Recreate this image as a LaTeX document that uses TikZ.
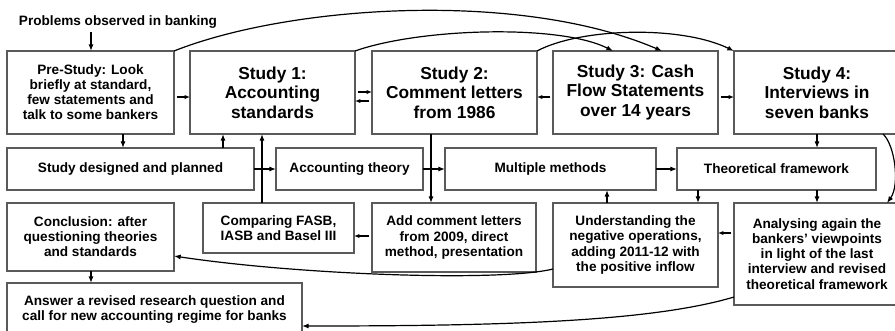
\documentclass[tikz,border=0pt]{standalone}
\usepackage{fontspec}
\setmainfont{Liberation Sans}
\usetikzlibrary{arrows.meta}
\definecolor{bordergray}{RGB}{90,90,90}
\tikzset{
  box/.style={draw=bordergray, line width=0.8pt, align=center, inner sep=0pt, outer sep=0pt,
              font=\bfseries\fontsize{10.2}{11.3}\selectfont},
  big/.style={font=\bfseries\fontsize{13}{14.6}\selectfont},
  arr/.style={line width=0.9pt, -{Latex[length=5pt,width=3.8pt]}},
  arrs/.style={line width=0.9pt, -{Latex[length=4pt,width=3.2pt]}, shorten <=2pt},
}
% \mkbox[opt]{name}{x1}{y1}{x2}{y2}{text}
\newcommand{\mkbox}[7][]{\node[box,#1,minimum width={(#5-#3)*0.75pt},minimum height={(#6-#4)*0.75pt}] (#2) at ({(#3+#5)/2},{(#4+#6)/2}) {#7};}
\begin{document}
\begin{tikzpicture}[x=0.75pt,y=-0.75pt]
\useasboundingbox (0,0) rectangle (895,330);
\node[font=\bfseries\fontsize{10.2}{11.3}\selectfont, inner sep=0pt] (title) at (118,22) {Problems observed in banking};
\coordinate (tstart) at (91,32);
% row 1
\mkbox{pre}{7}{51}{174}{134}{Pre-Study: Look\\briefly at standard,\\few statements and\\talk to some bankers}
\mkbox[big]{s1}{190}{51}{355}{134}{Study 1:\\Accounting\\standards}
\mkbox[big]{s2}{372}{51}{537}{134}{Study 2:\\Comment letters\\from 1986}
\mkbox[big]{s3}{553}{51}{718}{134}{Study 3: Cash\\Flow Statements\\over 14 years}
\mkbox[big]{s4}{734}{51}{900}{134}{Study 4:\\Interviews in\\seven banks}
% row 2
\mkbox{design}{7}{148}{254}{190}{Study designed and planned}
\mkbox{acct}{276}{148}{423}{190}{Accounting theory}
\mkbox{multi}{445}{148}{656}{190}{Multiple methods}
\mkbox{theo}{677}{148}{876}{190}{Theoretical framework}
% row 3
\mkbox{concl}{7}{203}{174}{271}{Conclusion: after\\questioning theories\\and standards}
\mkbox{comp}{203}{203}{354}{253}{Comparing FASB,\\IASB and Basel III}
\mkbox{add}{372}{203}{536}{272}{Add comment letters\\from 2009, direct\\method, presentation}
\mkbox{und}{553}{203}{718}{287}{Understanding the\\negative operations,\\adding 2011-12 with\\the positive inflow}
\mkbox{ana}{734}{203}{900}{305}{Analysing again the\\bankers’ viewpoints\\in light of the last\\interview and revised\\theoretical framework}
% row 4
\mkbox{ans}{7}{283}{302}{336}{Answer a revised research question and\\call for new accounting regime for banks}
% straight arrows
\draw[arr] (tstart) -- (tstart |- pre.north);
\draw[arrs] (pre.east |- 0,97) -- (s1.west |- 0,97);
\draw[arrs] (s1.east |- 0,92) -- (s2.west |- 0,92);
\draw[arrs] (s2.west |- 0,101) -- (s1.east |- 0,101);
\draw[arrs] (s3.west |- 0,97) -- (s2.east |- 0,97);
\draw[arrs] (s3.east |- 0,97) -- (s4.west |- 0,97);
\draw[arr] (123,0 |- pre.south) -- (123,0 |- design.north);
\draw[arr] (223,0 |- design.north) -- (223,0 |- s1.south);
\draw[arr] (262,0 |- comp.north) -- (262,0 |- s1.south);
\draw[arr] (design.east) -- (acct.west);
\draw[arr] (431,0 |- s2.south) -- (431,0 |- add.north);
\draw[arr] (acct.east) -- (multi.west);
\draw[arr] (multi.east) -- (theo.west);
\draw[arr] (817,0 |- s4.south) -- (817,0 |- theo.north);
\draw[arr] (698,0 |- theo.south) -- (698,0 |- und.north);
\draw[arr] (817,0 |- theo.south) -- (817,0 |- ana.north);
\draw[arr] (607,0 |- und.north) -- (607,0 |- multi.south);
\draw[arrs] (add.west |- 0,236) -- (comp.east |- 0,236);
\draw[arrs] (ana.west |- 0,233) -- (und.east |- 0,233);
\draw[arr] (91,0 |- concl.south) -- (91,0 |- ans.north);
% curved arrows
\draw[arr] (und.west |- 0,269) .. controls (500,282) and (300,275) .. (concl.east |- 0,256);
\draw[arr] (ana.west |- 0,297) .. controls (650,322) and (500,326) .. (ans.east |- 0,326);
\draw[arr] (pre.north east) .. controls (290,5) and (520,-10) .. (662,0 |- s3.north);
\draw[arr] (s1.north east) .. controls (420,28) and (560,24) .. (613,0 |- s3.north);
\draw[arr] (s2.north east) .. controls (580,28) and (680,25) .. (s4.north west);
\draw[arr] (883,0 |- s4.south) .. controls (895,145) and (900,185) .. (887,0 |- ana.north);
\end{tikzpicture}
\end{document}
